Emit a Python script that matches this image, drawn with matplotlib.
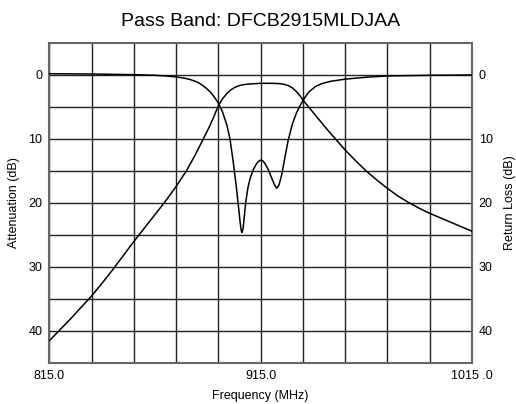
import matplotlib
matplotlib.use('Agg')
import matplotlib.pyplot as plt

plt.rcParams['font.family'] = ['Liberation Sans', 'DejaVu Sans']

# attenuation (insertion loss)
att_freq = [815, 820, 825, 830, 835, 840, 845, 850, 855, 860, 865, 870, 875, 880,
            884, 888, 891, 893, 895, 897, 899, 901, 903, 905, 907, 910, 915, 920,
            924, 926, 928, 930, 932, 934, 935, 937, 939, 941, 943, 947, 951, 955,
            960, 965, 970, 975, 980, 985, 990, 995, 1000, 1005, 1010, 1015]
att_db = [41.5, 39.8, 38.1, 36.3, 34.5, 32.5, 30.4, 28.2, 26.0, 23.9, 21.8, 19.7, 17.4, 14.9,
          12.5, 9.9, 7.9, 6.4, 4.8, 3.7, 2.9, 2.3, 1.9, 1.65, 1.5, 1.4, 1.3, 1.3,
          1.35, 1.45, 1.65, 2.0, 2.6, 3.4, 3.9, 4.7, 5.5, 6.3, 7.1, 8.7, 10.2, 11.7,
          13.4, 15.0, 16.4, 17.7, 18.9, 19.9, 20.8, 21.6, 22.3, 23.0, 23.7, 24.4]

# return loss
rl_freq = [815, 835, 855, 865, 870, 875, 879, 882, 885, 887, 889, 891, 893, 895,
           897, 899, 900.5, 902, 903.5, 904.5, 905.3, 905.8, 906.2, 906.7, 907.3,
           908, 909, 910, 911.5, 913, 914, 915, 916, 917, 918.5, 920, 921.5, 922.6,
           923.7, 925, 926.5, 928, 930, 932, 934, 936, 938, 941, 944, 948, 955,
           965, 975, 995, 1015]
rl_db = [-0.2, -0.15, -0.05, 0.05, 0.15, 0.3, 0.5, 0.75, 1.1, 1.5, 2.0, 2.6, 3.4, 4.4,
         5.8, 7.8, 10.0, 13.5, 17.5, 20.5, 23.0, 24.3, 24.6, 24.0, 22.0,
         19.8, 17.6, 16.2, 14.8, 13.9, 13.5, 13.3, 13.4, 13.8, 14.7, 15.9, 17.1, 17.7,
         17.2, 15.6, 12.9, 10.3, 7.7, 5.9, 4.6, 3.5, 2.6, 1.8, 1.35, 1.0, 0.65,
         0.35, 0.15, 0.05, 0.0]

x_ticks = list(range(815, 1016, 20))
x_labels = ['815.0', '', '', '', '', '915.0', '', '', '', '', '1015 .0']
y_ticks = [0, 10, 20, 30, 40]

fig = plt.figure(figsize=(5.16, 4.04), dpi=100)
ax = fig.add_axes([0.0959, 0.1015, 0.8183, 0.7921])

for x in x_ticks:
    ax.axvline(x, color='#222222', lw=1.0, zorder=1)
for y in range(0, 45, 5):
    ax.axhline(y, color='#222222', lw=1.0, zorder=1)

ax.plot(att_freq, att_db, color='black', lw=1.1, zorder=3)
ax.plot(rl_freq, rl_db, color='black', lw=1.1, zorder=3)

ax.set_xlim(815, 1015)
ax.set_ylim(45, -5)
ax.set_xticks(x_ticks)
ax.set_xticklabels(x_labels)
ax.set_yticks(y_ticks)
ax.tick_params(length=0, labelsize=9, pad=5)
for s in ax.spines.values():
    s.set_color('#666666')
    s.set_linewidth(1.5)

ax2 = ax.twinx()
ax2.set_ylim(45, -5)
ax2.set_yticks(y_ticks)
ax2.tick_params(length=0, labelsize=9, pad=5)
for s in ax2.spines.values():
    s.set_visible(False)

ax.set_xlabel('Frequency (MHz)', fontsize=9, labelpad=6)
ax.set_ylabel('Attenuation (dB)', fontsize=9, labelpad=6)
ax2.set_ylabel('Return Loss (dB)', fontsize=9, labelpad=8)
ax.set_title('Pass Band: DFCB2915MLDJAA', fontsize=14, pad=12)

fig.savefig('out.png', dpi=100)
